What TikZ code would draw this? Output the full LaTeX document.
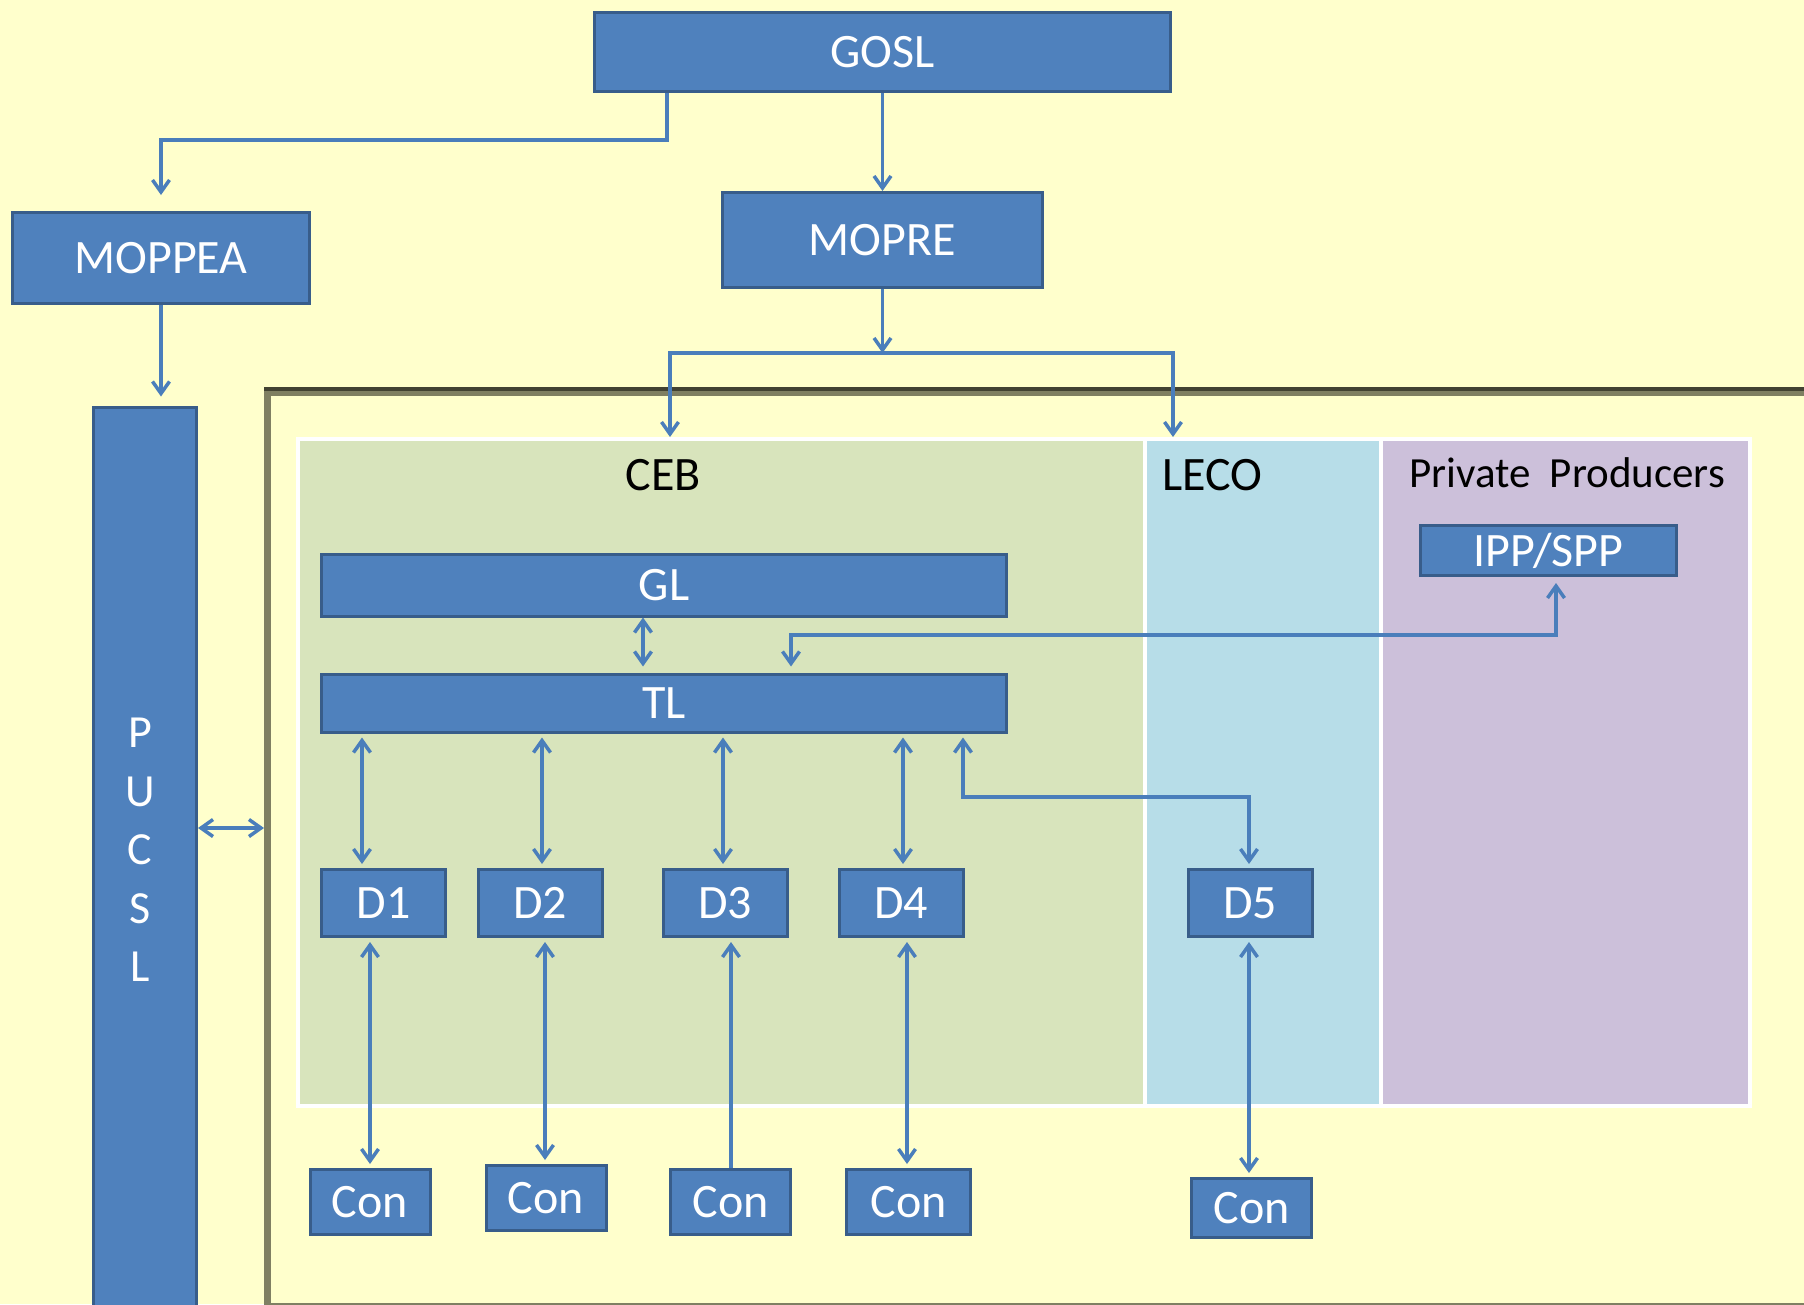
\documentclass[tikz,border=0pt]{standalone}
\usepackage{fontspec}
\setmainfont{Carlito}
\usetikzlibrary{arrows.meta}

\definecolor{bgyellow}{HTML}{FFFFCC}
\definecolor{boxfill}{HTML}{4F81BD}
\definecolor{boxedge}{HTML}{385D8A}
\definecolor{linkblue}{HTML}{4A7EBB}
\definecolor{cebgreen}{HTML}{D8E4BC}
\definecolor{lecoblue}{HTML}{B7DDE8}
\definecolor{privlilac}{HTML}{CCC0DA}
\definecolor{frameolive}{HTML}{7F7F62}
\definecolor{framedark}{HTML}{424232}

\begin{document}
\begin{tikzpicture}[x=1pt,y=-1pt,
  >={Straight Barb[length=12pt,width=17pt]},
  box/.style={draw=boxedge, fill=boxfill, line width=3pt, inner sep=0pt,
              text=white, font=\fontsize{48}{58}\selectfont},
  panel/.style={draw=white, line width=4pt, inner sep=0pt, anchor=north west},
  paneltitle/.style={inner sep=0pt, text=black, font=\fontsize{48}{58}\selectfont},
  conn/.style={draw=linkblue, line width=3.5pt},
  dbox/.style={box, minimum width=124pt, minimum height=67pt},
  conbox/.style={box, minimum width=120pt, minimum height=65pt}
]
% canvas
\useasboundingbox (0,0) rectangle (1804,1304);
\clip (0,0) rectangle (1804,1304);
\fill[bgyellow] (0,0) rectangle (1804,1304);

% outer frame around the utilities
\node[draw=frameolive, line width=7pt, inner sep=0pt, anchor=north west,
      minimum width=1544pt, minimum height=914pt] (frame) at (264,389) {};
\draw[framedark, line width=4pt] (frame.north west) -- (frame.north east);
\draw[framedark, line width=4pt] (frame.south west) -- (frame.south east);

% coloured panels
\node[panel, fill=cebgreen, minimum width=847pt, minimum height=667pt] (ceb) at (296,437) {};
\node[panel, fill=lecoblue, minimum width=236pt, minimum height=667pt] (leco) at (1143,437) {};
\node[panel, fill=privlilac, minimum width=369pt, minimum height=667pt] (priv) at (1379,437) {};

\node[paneltitle] (cebtitle) at (663,475) {CEB};
\node[paneltitle] (lecotitle) at (1212,475) {LECO};
\node[paneltitle, font=\fontsize{43}{52}\selectfont] (privtitle) at (1567,473) {Private\ \ Producers};

% top level boxes
\node[box, minimum width=576pt, minimum height=79pt] (gosl) at (882.5,52) {GOSL};
\node[box, minimum width=297pt, minimum height=91pt] (moppea) at (161,258) {MOPPEA};
\node[box, minimum width=320pt, minimum height=95pt] (mopre) at (882.5,240) {MOPRE};

% regulator column
\node[box, minimum width=103pt, minimum height=960pt, anchor=north] (pucsl) at (145,405.5) {};
\node[inner sep=0pt, text=white, align=center, font=\fontsize{46}{58.5}\selectfont]
  (pucsltext) at (140,850) {P\\U\\C\\S\\L};

% generation and transmission
\node[box, minimum width=685pt, minimum height=62pt] (gl) at (664,585) {GL};
\node[box, minimum width=685pt, minimum height=58pt] (tl) at (664,703) {TL};
\node[box, minimum width=256pt, minimum height=50pt] (ipp) at (1548.5,550.5) {IPP/SPP};

% distribution licensees
\node[dbox] (d1) at (383.5,903) {D1};
\node[dbox] (d2) at (540,903) {D2};
\node[dbox] (d3) at (725,903) {D3};
\node[dbox] (d4) at (901,903) {D4};
\node[dbox] (d5) at (1250,903) {D5};

% consumers
\node[conbox] (con1) at (370,1202) {Con};
\node[conbox] (con2) at (546,1198) {Con};
\node[conbox] (con3) at (730.5,1202) {Con};
\node[conbox, minimum width=124pt] (con4) at (908.5,1202) {Con};
\node[conbox, minimum height=59pt] (con5) at (1251.5,1208) {Con};

% routing points
\coordinate (gbend) at (667,140);
\coordinate (mjoin) at (882.5,353);
\coordinate (cebin) at (670,437);
\coordinate (lecoin) at (1173,437);
\coordinate (pk) at (0,828);
\coordinate (xgt) at (643,0);
\coordinate (ibend) at (791,635);
\coordinate (ix) at (1556,0);
\coordinate (dbend) at (963,797);
\coordinate (xt1) at (362,0);
\coordinate (xt2) at (542,0);
\coordinate (xt3) at (723,0);
\coordinate (xt4) at (903,0);
\coordinate (xc1) at (370,0);
\coordinate (xc2) at (545,0);
\coordinate (xc3) at (731,0);
\coordinate (xc4) at (907,0);
\coordinate (xc5) at (1249,0);

% ministries
\draw[conn,->,shorten >=16pt] (gbend |- gosl.south) -- (gbend) -| (moppea.north);
\draw[conn,->] (gosl.south) -- (mopre.north);
\draw[conn,->] (mopre.south) -- (mjoin);
\draw[conn,->] (mjoin) -| (cebin);
\draw[conn,->] (mjoin) -| (lecoin);
\draw[conn,->,shorten >=9pt] (moppea.south) -- (moppea.south |- pucsl.north);
\draw[conn,<->] (pucsl.east |- pk) -- (frame.west |- pk);

% inside CEB
\draw[conn,<->,shorten >=6pt] (gl.south -| xgt) -- (tl.north -| xgt);
\draw[conn,<->,shorten >=6pt,shorten <=6pt] (ipp.south -| ix) |- (ibend) -- (ibend |- tl.north);

\draw[conn,<->,shorten <=4pt,shorten >=4pt] (tl.south -| xt1) -- (d1.north -| xt1);
\draw[conn,<->,shorten <=4pt,shorten >=4pt] (tl.south -| xt2) -- (d2.north -| xt2);
\draw[conn,<->,shorten <=4pt,shorten >=4pt] (tl.south -| xt3) -- (d3.north -| xt3);
\draw[conn,<->,shorten <=4pt,shorten >=4pt] (tl.south -| xt4) -- (d4.north -| xt4);
\draw[conn,<->,shorten <=4pt,shorten >=4pt] (tl.south -| dbend) -- (dbend) -| (d5.north -| xc5);

\draw[conn,<->,shorten <=4pt,shorten >=4pt] (d1.south -| xc1) -- (con1.north -| xc1);
\draw[conn,<->,shorten <=4pt,shorten >=4pt] (d2.south -| xc2) -- (con2.north -| xc2);
\draw[conn,<-,shorten <=4pt] (d3.south -| xc3) -- (con3.north -| xc3);
\draw[conn,<->,shorten <=4pt,shorten >=4pt] (d4.south -| xc4) -- (con4.north -| xc4);
\draw[conn,<->,shorten <=4pt,shorten >=4pt] (d5.south -| xc5) -- (con5.north -| xc5);
\end{tikzpicture}
\end{document}
